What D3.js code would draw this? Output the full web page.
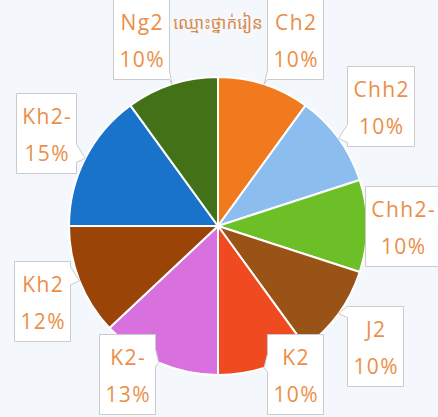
<!DOCTYPE html>
<html>
<head>
<meta charset="utf-8">
<script src="https://cdn.jsdelivr.net/npm/d3@7"></script>
<style>
  html, body { margin: 0; padding: 0; background: #F4F8FC; }
  svg { display: block; }
</style>
</head>
<body>
<div id="chart"></div>
<script>
const title = "ឈ្មោះថ្នាក់រៀន";
const categories = ["Ch2", "Chh2", "Chh2-", "J2", "K2", "K2-", "Kh2", "Kh2-", "Ng2"];
const values = [10, 10, 10, 10, 10, 13, 12, 15, 10];
const colors = ["#F27A1E", "#8CBDEF", "#6DBF27", "#9A5317", "#F04A21", "#D870DE", "#9A4507", "#1A73CA", "#437118"];

const W = 438, H = 417;
const cx = 218, cy = 226, R = 149;
const textColor = "#EA8F48";
const fontFam = "'Comic Sans MS', 'Open Sans', 'Noto Sans', sans-serif";

const svg = d3.select("#chart").append("svg").attr("width", W).attr("height", H);
svg.append("rect").attr("width", W).attr("height", H).attr("fill", "#F4F8FC");

const data = categories.map((c, i) => ({ name: c, value: values[i], color: colors[i] }));
const total = d3.sum(values);
const pie = d3.pie().sort(null).value(d => d.value).startAngle(0).endAngle(2 * Math.PI);
const arc = d3.arc().innerRadius(0).outerRadius(R);
const arcs = pie(data);

const g = svg.append("g").attr("transform", `translate(${cx},${cy})`);
g.selectAll("path").data(arcs).join("path")
  .attr("d", arc)
  .attr("fill", d => d.data.color)
  .attr("stroke", "#fff")
  .attr("stroke-width", 2)
  .attr("stroke-linejoin", "round");

// title
svg.append("text")
  .attr("x", 218).attr("y", 29)
  .attr("text-anchor", "middle")
  .attr("font-family", "'Noto Sans Khmer', 'Khmer OS', 'Noto Sans', sans-serif")
  .attr("font-size", 17)
  .attr("fill", "#D98B4E")
  .text(title);

// labels
const fs = 21, boxH = 80, ls = 1.4;
const labels = svg.append("g");
arcs.forEach(d => {
  const a = (d.startAngle + d.endAngle) / 2;
  const s = Math.sin(a), c = Math.cos(a);
  const px = cx + R * s, py = cy - R * c;
  const pct = Math.round(d.data.value / total * 100) + "%";

  const lg = labels.append("g");
  const path = lg.append("path").attr("fill", "#fff").attr("stroke", "#C9CBCD").attr("stroke-width", 1);
  const t1 = lg.append("text").attr("font-family", fontFam).attr("font-size", fs)
    .attr("letter-spacing", ls)
    .attr("fill", textColor).attr("text-anchor", "middle").text(d.data.name);
  const t2 = lg.append("text").attr("font-family", fontFam).attr("font-size", fs)
    .attr("letter-spacing", ls)
    .attr("fill", textColor).attr("text-anchor", "middle").text(pct);
  const tw = Math.max(t1.node().getComputedTextLength(), t2.node().getComputedTextLength());
  const w = Math.round(tw + 10);

  let L;
  if (s >= 0) L = px + 10.5 * s; else L = px - 10.5 * Math.abs(s) - w;
  L = Math.max(0, Math.min(W + 2 - w, L));
  let T = py - 56 * c - boxH / 2;
  T = Math.max(-1, Math.min(414 - boxH, T));
  L = Math.round(L) + 0.5; T = Math.round(T) + 0.5;
  const Rr = L + w, B = T + boxH;

  t1.attr("x", L + w / 2 + ls / 2).attr("y", T + 23 + fs * 0.36);
  t2.attr("x", L + w / 2 + ls / 2).attr("y", T + 60 + fs * 0.36);

  const clampBase = (lo, hi, a1, a2) => {
    let b1 = Math.max(lo, a1), b2 = Math.min(hi, a2);
    if (b2 - b1 < 9) { if (b2 === hi) b1 = b2 - 9; else b2 = b1 + 9; }
    return [b1, b2];
  };

  let p;
  if (px < L && s >= 0) {
    const [b1, b2] = clampBase(T, B, py - 14, py + 4);
    p = `M${L},${T}H${Rr}V${B}H${L}V${b2}L${px},${py}L${L},${b1}Z`;
  } else if (px > Rr && s < 0) {
    const [b1, b2] = clampBase(T, B, py - 14, py + 4);
    p = `M${L},${T}H${Rr}V${b1}L${px},${py}L${Rr},${b2}V${B}H${L}Z`;
  } else if (py > B) {
    const [x1, x2] = clampBase(L, Rr, px - 7, px + 7);
    p = `M${L},${T}H${Rr}V${B}H${x2}L${px},${py}L${x1},${B}H${L}Z`;
  } else if (py < T) {
    const [x1, x2] = clampBase(L, Rr, px - 7, px + 7);
    p = `M${L},${T}H${x1}L${px},${py}L${x2},${T}H${Rr}V${B}H${L}Z`;
  } else {
    p = `M${L},${T}H${Rr}V${B}H${L}Z`;
  }
  path.attr("d", p);
});
</script>
</body>
</html>
